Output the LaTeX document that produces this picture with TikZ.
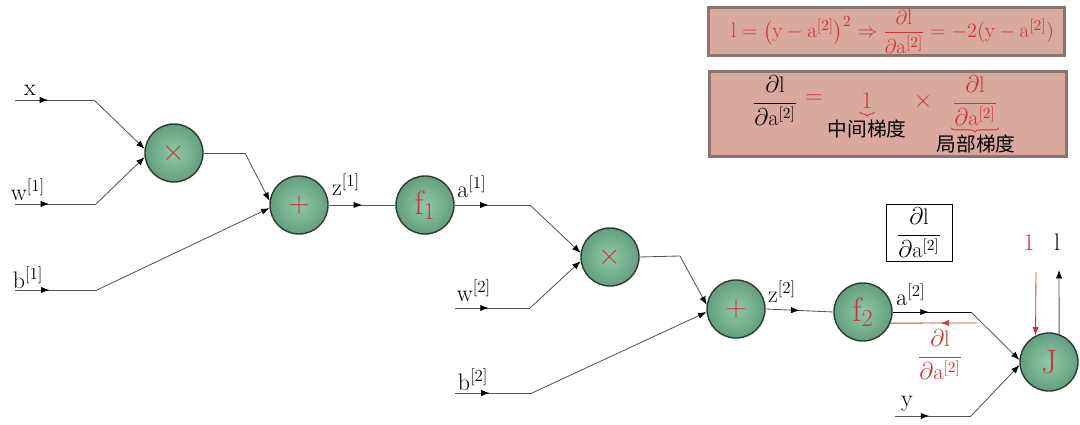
\documentclass[tikz,border=0pt]{standalone}
\usepackage{amsmath}
\usepackage{fontspec}
\newfontfamily\cjk{Noto Sans CJK SC}
\usetikzlibrary{arrows.meta, decorations.markings, decorations.pathreplacing}
\definecolor{opred}{HTML}{CC3535}
\definecolor{opfillin}{HTML}{8FC8A8}
\definecolor{opfillout}{HTML}{639F7F}
\definecolor{opedge}{HTML}{2C3B32}
\definecolor{boxfill}{HTML}{D9A99E}
\definecolor{boxedge}{HTML}{8A7470}
\definecolor{wiregray}{HTML}{555555}
\tikzset{
  op/.style={circle, minimum size=1.45cm, inner sep=0pt, draw=opedge, line width=1pt,
    inner color=opfillin, outer color=opfillout, text=opred, font=\fontsize{22}{24}\selectfont},
  lbl/.style={inner sep=0pt, font=\fontsize{17}{19}\selectfont},
  wire/.style={draw=wiregray, line width=0.6pt},
  tip/.style={-{Latex[length=6pt,width=4.5pt,color=black]}},
  midarrow/.style={decoration={markings, mark=at position #1 with {\arrow{Latex[length=6pt,width=4.5pt,color=black]}}}, postaction=decorate},
  formbox/.style={draw=boxedge, line width=2.2pt, fill=boxfill, inner sep=0pt},
  redbrace/.style={draw=opred, line width=0.6pt, decorate, decoration={brace, mirror, amplitude=3pt}},
}
\begin{document}
\begin{tikzpicture}[x=0.025cm, y=-0.025cm]
\useasboundingbox (0,0) rectangle (1080,425);

% top boxes
\node[formbox, minimum width=8.9cm, minimum height=1.2cm, anchor=north west] (box1) at (707,6) {};
\node[text=opred, font=\fontsize{15}{17}\selectfont] (form1) at ([xshift=0.15cm]box1.center)
  {$\mathrm{l}=\bigl(\mathrm{y}-\mathrm{a}^{[2]}\bigr)^2 \Rightarrow \dfrac{\partial \mathrm{l}}{\partial \mathrm{a}^{[2]}} = -2(\mathrm{y}-\mathrm{a}^{[2]})$};

\node[formbox, minimum width=8.925cm, minimum height=2.125cm, anchor=north west] (box2) at (708,70) {};
\node[font=\fontsize{16}{18}\selectfont] (lhs) at (775,101) {$\dfrac{\partial \mathrm{l}}{\partial \mathrm{a}^{[2]}}$};
\node[text=opred, font=\fontsize{16}{18}\selectfont] (eq) at (814,99) {$=$};
\node[text=opred, font=\fontsize{16}{18}\selectfont, inner sep=0pt] (one) at (867,101) {$1$};
\node[font=\cjk\fontsize{14}{16}\selectfont, inner sep=0pt] (mid) at (867,129) {中间梯度};
\node[text=opred, font=\fontsize{16}{18}\selectfont] (times) at (923,101) {$\times$};
\node[text=opred, font=\fontsize{16}{18}\selectfont, inner sep=0pt] (rhs) at (975,101) {$\dfrac{\partial \mathrm{l}}{\partial \mathrm{a}^{[2]}}$};
\node[font=\cjk\fontsize{14}{16}\selectfont, inner sep=0pt] (loc) at (976,144) {局部梯度};
\draw[redbrace] ([xshift=-1pt, yshift=-2pt]one.south west) -- ([xshift=1pt, yshift=-2pt]one.south east);
\draw[redbrace] ([xshift=-1pt, yshift=-1pt]rhs.south west) -- ([xshift=1pt, yshift=-1pt]rhs.south east);

% operation nodes
\node[op] (mul1) at (174,153) {$\times$};
\node[op] (add1) at (299,205) {$+$};
\node[op, font=\fontsize{24}{26}\selectfont] (f1) at (425,205) {$\mathrm{f}_1$};
\node[op] (mul2) at (610,257) {$\times$};
\node[op] (add2) at (736,309) {$+$};
\node[op, font=\fontsize{24}{26}\selectfont] (f2) at (863,312) {$\mathrm{f}_2$};
\node[op, font=\fontsize{24}{26}\selectfont] (J) at (1049,362) {$\mathrm{J}$};

% labels
\node[lbl] (xl) at (30,90) {$\mathrm{x}$};
\node[lbl] (w1l) at (28,190) {$\mathrm{w}^{[1]}$};
\node[lbl] (b1l) at (28,278) {$\mathrm{b}^{[1]}$};
\node[lbl] (z1l) at (346,185) {$\mathrm{z}^{[1]}$};
\node[lbl] (a1l) at (472,187) {$\mathrm{a}^{[1]}$};
\node[lbl] (w2l) at (474,291) {$\mathrm{w}^{[2]}$};
\node[lbl] (b2l) at (473,380) {$\mathrm{b}^{[2]}$};
\node[lbl] (z2l) at (782,292) {$\mathrm{z}^{[2]}$};
\node[lbl] (a2l) at (911,295) {$\mathrm{a}^{[2]}$};
\node[lbl] (yl) at (907,404) {$\mathrm{y}$};
\node[lbl, text=opred] (onel) at (1029,243) {$1$};
\node[lbl] (ll) at (1057,242) {$\mathrm{l}$};
\node[draw=black, line width=0.7pt, fill=white, minimum width=1.65cm, minimum height=1.42cm, inner sep=0pt, font=\fontsize{16}{18}\selectfont] (gbox) at (919,233) {$\dfrac{\partial \mathrm{l}}{\partial \mathrm{a}^{[2]}}$};
\node[text=opred, inner sep=0pt, font=\fontsize{16}{18}\selectfont] (redfrac) at (940,355) {$\dfrac{\partial \mathrm{l}}{\partial \mathrm{a}^{[2]}}$};

% coordinates
\coordinate (xs) at (15,100); \coordinate (xk) at (94,100);
\coordinate (w1s) at (15,204); \coordinate (w1k) at (96,204);
\coordinate (b1s) at (15,290); \coordinate (b1k) at (97,290);
\coordinate (m1k) at (245,153);
\coordinate (a1k) at (530,205);
\coordinate (w2s) at (455,308); \coordinate (w2k) at (530,308);
\coordinate (b2s) at (455,393); \coordinate (b2k) at (532,393);
\coordinate (m2k) at (680,256);
\coordinate (a2k) at (971,312);
\coordinate (rk) at (977,323);
\coordinate (ys) at (895,416); \coordinate (yk) at (971,416);
\coordinate (onetop) at (1036,272);
\coordinate (ltop) at (1059,270);

% wires
\draw[wire, midarrow=0.42] (xs) -- (xk);
\draw[wire, tip] (xk) -- (mul1.172);
\draw[wire, midarrow=0.42] (w1s) -- (w1k);
\draw[wire, tip] (w1k) -- (mul1.188);
\draw[wire, midarrow=0.42] (b1s) -- (b1k);
\draw[wire, tip] (b1k) -- (add1.186);
\draw[wire] (mul1.east) -- (m1k);
\draw[wire, tip] (m1k) -- (add1.172);
\draw[wire, midarrow=0.5] (add1.east) -- (f1.west);
\draw[wire, midarrow=0.45] (f1.east) -- (a1k);
\draw[wire, tip] (a1k) -- (mul2.172);
\draw[wire, midarrow=0.45] (w2s) -- (w2k);
\draw[wire, tip] (w2k) -- (mul2.188);
\draw[wire, midarrow=0.45] (b2s) -- (b2k);
\draw[wire, tip] (b2k) -- (add2.186);
\draw[wire] (mul2.east) -- (m2k);
\draw[wire, tip] (m2k) -- (add2.172);
\draw[wire, midarrow=0.5] (add2.east) -- (f2.west);
\draw[wire, draw=black, line width=0.6pt, midarrow=0.46] (f2.east) -- (a2k);
\draw[wire, tip] (a2k) -- (J.176);
\draw[draw=opred, line width=0.6pt, decoration={markings, mark=at position 0.42 with {\arrow[opred]{Latex[length=6pt,width=4.5pt]}}}, postaction=decorate] (rk) -- (f2.-22);
\draw[wire, midarrow=0.45] (ys) -- (yk);
\draw[wire, tip] (yk) -- (J.186);
\draw[draw=opred, line width=0.6pt, -{Latex[length=6pt,width=4.5pt]}] (onetop) -- (J.117);
\draw[wire, tip] (J.70) -- (ltop);
\end{tikzpicture}
\end{document}
